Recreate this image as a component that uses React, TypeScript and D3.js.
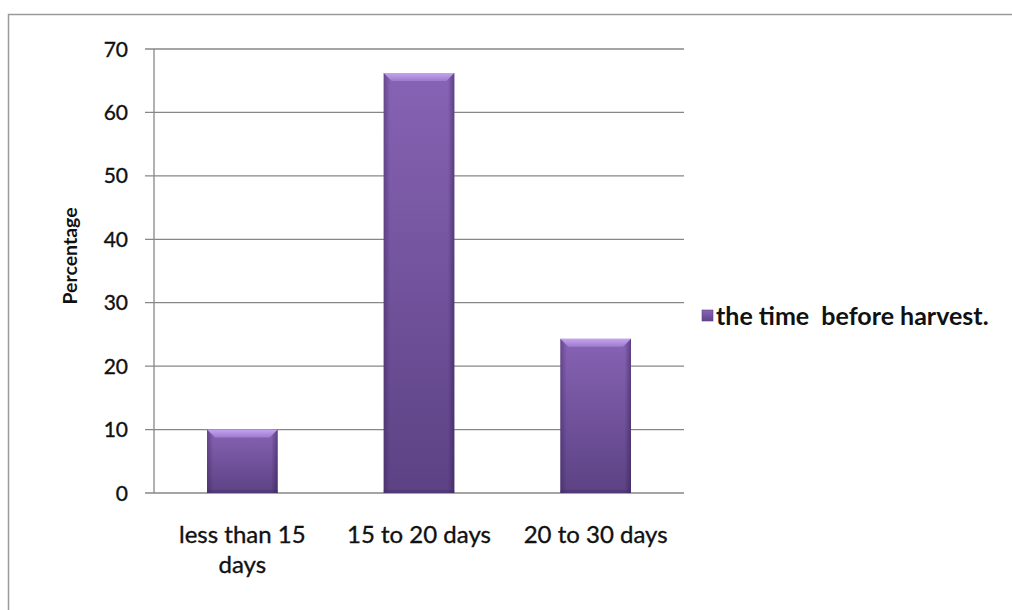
import React from "react";
import * as d3 from "d3";

// Share of respondents by time before harvest
const categories: string[][] = [["less than 15", "days"], ["15 to 20 days"], ["20 to 30 days"]];
const categoryKeys: string[] = ["less than 15 days", "15 to 20 days", "20 to 30 days"];
const percentages: number[] = [10, 66.2, 24.3];
const yTicks: number[] = [0, 10, 20, 30, 40, 50, 60, 70];
const seriesName = "the time  before harvest.";
const yTitle = "Percentage";

const W = 1012;
const H = 610;
const plot = { left: 154, right: 684, top: 49, bottom: 493 };
const FONT = "Lato, 'Open Sans', sans-serif";
const GRID = "#878787";
const INK = "#111";

export default function App() {
  const y = d3.scaleLinear().domain([0, 70]).range([plot.bottom, plot.top]);
  const x = d3
    .scaleBand<string>()
    .domain(categoryKeys)
    .range([plot.left, plot.right])
    .paddingInner(0.6)
    .paddingOuter(0.3);
  const bw = x.bandwidth();

  return (
    <svg
      width={W}
      height={H}
      style={{ position: "absolute", left: 0, top: 0, background: "#fff" }}
      fontFamily={FONT}
    >
      <defs>
        <linearGradient id="barFace" x1="0" y1="0" x2="0" y2="1">
          <stop offset="0%" stopColor="#8763b4" />
          <stop offset="100%" stopColor="#5c4284" />
        </linearGradient>
        <linearGradient id="barSides" x1="0" y1="0" x2="1" y2="0">
          <stop offset="0%" stopColor="#2a1646" stopOpacity="0.35" />
          <stop offset="9%" stopColor="#2a1646" stopOpacity="0" />
          <stop offset="91%" stopColor="#2a1646" stopOpacity="0" />
          <stop offset="100%" stopColor="#2a1646" stopOpacity="0.45" />
        </linearGradient>
        <linearGradient id="barTop" x1="0" y1="0" x2="0" y2="1">
          <stop offset="0%" stopColor="#c3a3ef" />
          <stop offset="100%" stopColor="#9d7bcd" />
        </linearGradient>
        <linearGradient id="legendFill" x1="0" y1="0" x2="0" y2="1">
          <stop offset="0%" stopColor="#8a64b8" />
          <stop offset="100%" stopColor="#5f4487" />
        </linearGradient>
      </defs>

      {/* chart area frame */}
      <rect x={8.5} y={14.5} width={1100} height={700} fill="none" stroke="#9a9a9a" strokeWidth={1.5} />

      {/* gridlines and y ticks */}
      {yTicks.map((t) => (
        <g key={t}>
          <line x1={plot.left - 9} x2={plot.right} y1={y(t)} y2={y(t)} stroke={GRID} strokeWidth={1.3} />
          <text
            x={128}
            y={y(t)}
            dy="0.36em"
            textAnchor="end"
            fontSize={21}
            fill={INK}
            stroke={INK}
            strokeWidth={0.35}
          >
            {t}
          </text>
        </g>
      ))}
      <line x1={plot.left} x2={plot.left} y1={plot.top} y2={plot.bottom} stroke={GRID} strokeWidth={1.3} />

      {/* bars */}
      {categoryKeys.map((k, i) => {
        const x0 = x(k)!;
        const y0 = y(percentages[i]);
        const h = plot.bottom - y0;
        const bev = 8;
        return (
          <g key={k}>
            <rect x={x0} y={y0} width={bw} height={h} fill="url(#barFace)" />
            <rect x={x0} y={y0} width={bw} height={h} fill="url(#barSides)" />
            <polygon
              points={`${x0},${y0} ${x0 + bw},${y0} ${x0 + bw - bev},${y0 + bev} ${x0 + bev},${y0 + bev}`}
              fill="url(#barTop)"
            />
            <rect x={x0} y={plot.bottom - 3} width={bw} height={3} fill="#3f2a5e" opacity={0.35} />
          </g>
        );
      })}

      {/* category labels */}
      {categoryKeys.map((k, i) => (
        <text
          key={k}
          x={x(k)! + bw / 2}
          y={543}
          textAnchor="middle"
          fontSize={24}
          fill={INK}
          stroke={INK}
          strokeWidth={0.35}
        >
          {categories[i].map((line, j) => (
            <tspan key={j} x={x(k)! + bw / 2} dy={j === 0 ? 0 : 30}>
              {line}
            </tspan>
          ))}
        </text>
      ))}

      {/* y axis title */}
      <text
        transform={`translate(77,256) rotate(-90)`}
        textAnchor="middle"
        fontSize={19.5}
        fontWeight="bold"
        fill={INK}
      >
        {yTitle}
      </text>

      {/* legend */}
      <rect x={702} y={310} width={11} height={11} fill="url(#legendFill)" stroke="#5a4080" strokeWidth={0.6} />
      <text
        x={716}
        y={316}
        dy="0.36em"
        fontSize={25}
        fontWeight="bold"
        fill={INK}
        style={{ whiteSpace: "pre" }}
      >
        {seriesName}
      </text>
    </svg>
  );
}
